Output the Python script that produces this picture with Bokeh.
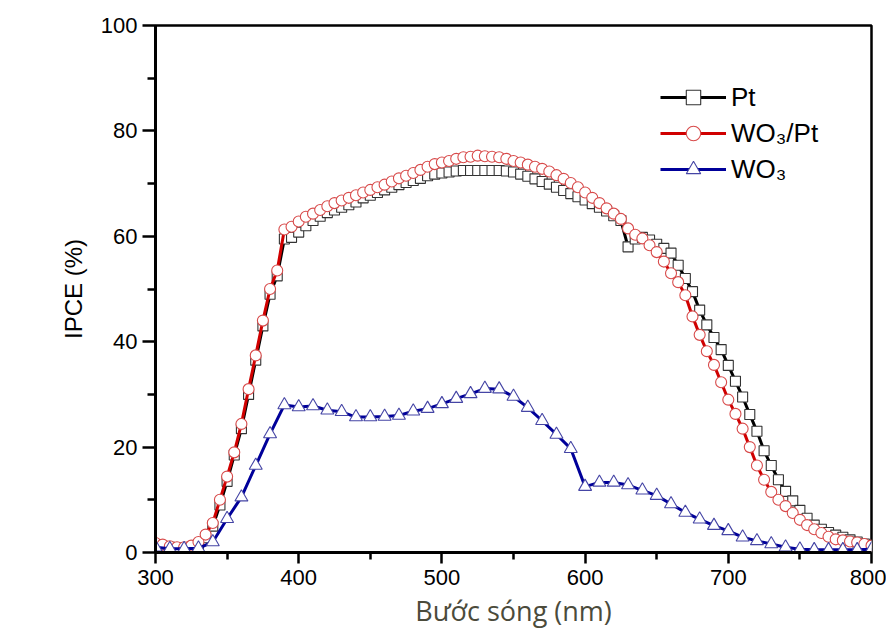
from bokeh.plotting import figure
from bokeh.models import FixedTicker, Legend, LegendItem
from bokeh.embed import file_html
from bokeh.resources import INLINE

# ---- data ----
wl5 = list(range(300, 801, 5))
pt = [1.5, 1.2, 1.0, 0.8, 0.8, 1.0, 1.5, 2.8, 5.0, 9.0,
      13.5, 18.5, 23.5, 30.0, 36.5, 43.0, 49.0, 52.5, 59.5, 59.8,
      60.8, 62.0, 63.0, 63.8, 64.5, 65.0, 65.5, 66.0, 66.5, 67.3,
      67.8, 68.3, 68.8, 69.3, 69.8, 70.2, 70.6, 71.0, 71.5, 71.8,
      72.0, 72.2, 72.4, 72.5, 72.5, 72.5, 72.5, 72.5, 72.5, 72.4,
      72.2, 71.8, 71.4, 70.9, 70.4, 69.9, 69.3, 68.7, 68.1, 67.5,
      66.9, 66.2, 65.5, 64.8, 63.9, 63.0, 58.0, 59.5, 59.8, 59.3,
      58.5, 57.7, 56.8, 54.5, 52.0, 49.5, 46.0, 43.2, 40.8, 38.5,
      35.5, 32.5, 29.5, 26.2, 23.0, 19.3, 16.5, 13.8, 11.6, 9.8,
      8.0, 6.5, 5.2, 4.4, 3.8, 3.3, 2.9, 2.4, 2.0, 1.6,
      1.2]
wo3_pt = [1.8, 1.5, 1.2, 1.0, 1.0, 1.3, 2.0, 3.4, 5.6, 10.0,
          14.4, 19.0, 24.4, 31.0, 37.4, 44.0, 50.0, 53.5, 61.3, 61.8,
          62.8, 63.7, 64.3, 65.0, 65.7, 66.3, 66.8, 67.3, 67.8, 68.3,
          68.8, 69.3, 69.8, 70.4, 71.0, 71.5, 72.0, 72.6, 73.2, 73.7,
          74.0, 74.3, 74.7, 75.0, 75.1, 75.3, 75.2, 75.1, 75.0, 74.7,
          74.3, 74.0, 73.6, 73.2, 72.8, 72.3, 71.6, 70.9, 70.1, 69.3,
          68.3, 67.3, 66.3, 65.3, 64.3, 63.3, 61.5, 60.3, 59.6, 58.3,
          57.0, 55.2, 53.0, 51.3, 48.8, 44.8, 41.3, 38.2, 35.6, 32.3,
          29.0, 26.3, 23.5, 20.0, 16.5, 13.8, 11.5, 10.0, 8.8, 7.5,
          6.2, 5.2, 4.4, 3.7, 3.0, 2.5, 2.3, 2.1, 1.9, 1.6,
          1.3]
wl10 = list(range(300, 801, 10))
wo3 = [1.0, 0.7, 0.7, 0.8, 2.0, 6.4, 10.5, 16.5, 22.5, 28.0,
       27.6, 27.8, 27.0, 26.7, 25.7, 25.7, 25.8, 26.0, 26.8, 27.3,
       28.2, 29.2, 30.1, 31.1, 31.0, 29.6, 27.5, 25.0, 22.4, 19.7,
       12.5, 13.3, 13.3, 12.8, 11.8, 10.8, 9.2, 7.6, 6.3, 5.1,
       4.1, 2.9, 2.2, 1.6, 1.0, 0.6, 0.5, 0.5, 0.5, 0.5,
       0.6]
x_ticks = [300, 400, 500, 600, 700, 800]
x_minor = [350, 450, 550, 650, 750]
y_ticks = [0, 20, 40, 60, 80, 100]
y_minor = [10, 30, 50, 70, 90]

p = figure(width=886, height=633, x_range=(300, 800), y_range=(0, 100),
           output_backend="svg", toolbar_location=None,
           min_border_left=155, min_border_right=15,
           min_border_top=25, min_border_bottom=81)
p.background_fill_color = "white"
p.border_fill_color = "white"
p.grid.visible = False
p.outline_line_color = "black"
p.outline_line_width = 2.5

for ax in (p.xaxis[0], p.yaxis[0]):
    ax.axis_line_width = 3
    ax.axis_line_color = "black"
    ax.major_tick_line_width = 2.5
    ax.minor_tick_line_width = 2.5
    ax.major_tick_in = 0
    ax.minor_tick_in = 0
    ax.major_label_text_font = "Liberation Sans"
    ax.major_label_text_font_size = "22px"
    ax.major_label_text_color = "black"

p.yaxis.major_tick_out = 13
p.yaxis.minor_tick_out = 8
p.xaxis.major_tick_out = 11
p.xaxis.minor_tick_out = 7

p.xaxis.ticker = FixedTicker(ticks=x_ticks, minor_ticks=x_minor)
p.yaxis.ticker = FixedTicker(ticks=y_ticks, minor_ticks=y_minor)
p.xaxis.major_label_standoff = 6
p.yaxis.major_label_standoff = 5

p.xaxis.axis_label = "Bước sóng (nm)"
p.xaxis.axis_label_text_font = "Open Sans"
p.xaxis.axis_label_text_font_style = "normal"
p.xaxis.axis_label_text_font_size = "27px"
p.xaxis.axis_label_text_color = "#4b4b3b"
p.xaxis.axis_label_standoff = 4

p.yaxis.axis_label = "IPCE (%)"
p.yaxis.axis_label_text_font = "Liberation Sans"
p.yaxis.axis_label_text_font_style = "normal"
p.yaxis.axis_label_text_font_size = "24px"
p.yaxis.axis_label_text_color = "black"
p.yaxis.axis_label_standoff = 11

l1 = p.line(wl5, pt, line_color="black", line_width=3)
s1 = p.scatter(wl5, pt, marker="square", size=10, line_color="#333333",
               line_width=1.1, fill_color="white")
l2 = p.line(wl5, wo3_pt, line_color="#d00000", line_width=3)
s2 = p.scatter(wl5, wo3_pt, marker="circle", size=11, line_color="#d84a4a",
               line_width=1.1, fill_color="white")
l3 = p.line(wl10, wo3, line_color="#00009a", line_width=3)
s3 = p.scatter(wl10, wo3, marker="triangle", size=13, line_color="#4545a5",
               line_width=1.1, fill_color="white")

legend = Legend(items=[
    LegendItem(label="Pt", renderers=[l1, s1]),
    LegendItem(label="WO₃/Pt", renderers=[l2, s2]),
    LegendItem(label="WO₃", renderers=[l3, s3]),
], location=(505, 365))
legend.border_line_color = None
legend.background_fill_alpha = 0
legend.padding = 0
legend.margin = 0
legend.spacing = 0
legend.glyph_width = 66
legend.glyph_height = 36
legend.label_standoff = 5
legend.label_text_font = "Liberation Sans"
legend.label_text_font_size = "26px"
legend.label_text_color = "black"
p.add_layout(legend, "center")

open("out.html", "w").write(file_html(p, INLINE))
